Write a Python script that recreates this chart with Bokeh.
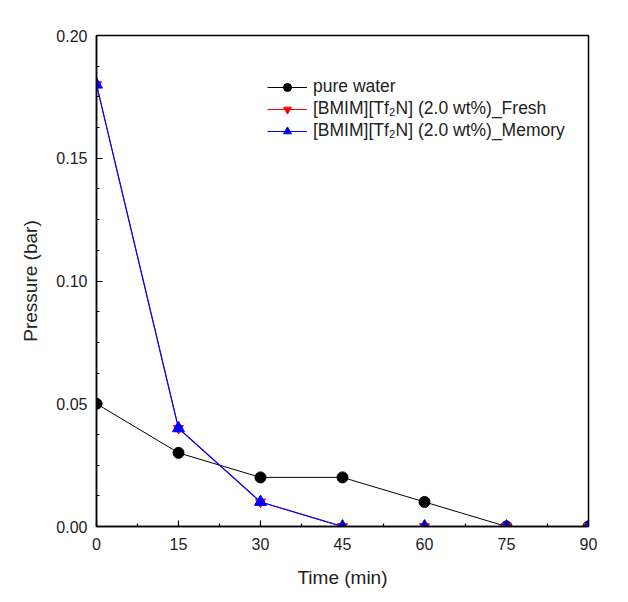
from bokeh.plotting import figure
from bokeh.models import Range1d, FixedTicker, Legend, LegendItem, NumeralTickFormatter
from bokeh.embed import file_html
from bokeh.resources import INLINE

time_min = [0, 15, 30, 45, 60, 75, 90]
pure_water = [0.05, 0.03, 0.02, 0.02, 0.01, 0.0, 0.0]
fresh = [0.18, 0.04, 0.01, 0.0, 0.0, 0.0, 0.0]
memory = [0.18, 0.04, 0.01, 0.0, 0.0, 0.0, 0.0]
x_ticks = [0, 15, 30, 45, 60, 75, 90]
y_ticks = [0.0, 0.05, 0.10, 0.15, 0.20]

FONT = "Liberation Sans"

p = figure(width=620, height=594, output_backend="svg", toolbar_location=None,
           x_range=Range1d(0, 90), y_range=Range1d(0, 0.20),
           min_border_left=96, min_border_right=32, min_border_top=35, min_border_bottom=68)
p.grid.visible = False
p.outline_line_color = "black"
p.outline_line_width = 1.5
p.background_fill_color = "white"

p.xaxis.ticker = FixedTicker(ticks=x_ticks, minor_ticks=[7.5 + 15 * i for i in range(6)])
p.yaxis.ticker = FixedTicker(ticks=y_ticks, minor_ticks=[0.0125 * i for i in range(17)])
p.yaxis.formatter = NumeralTickFormatter(format="0.00")

for ax in (p.xaxis[0], p.yaxis[0]):
    ax.major_tick_in = 6
    ax.major_tick_out = 0
    ax.minor_tick_in = 3
    ax.minor_tick_out = 0
    ax.axis_line_width = 1.5
    ax.major_tick_line_width = 1.2
    ax.minor_tick_line_width = 1.2
    ax.major_label_text_font = FONT
    ax.major_label_text_font_size = "16px"
    ax.major_label_text_color = "#222222"
    ax.axis_label_text_font = FONT
    ax.axis_label_text_font_size = "19px"
    ax.axis_label_text_font_style = "normal"
    ax.axis_label_text_color = "#222222"

p.xaxis.axis_label = "Time (min)"
p.yaxis.axis_label = "Pressure (bar)"
p.xaxis.major_label_standoff = 11
p.xaxis.axis_label_standoff = 14
p.yaxis.major_label_standoff = 9
p.yaxis.axis_label_standoff = 12

l1 = p.line(time_min, pure_water, line_color="black", line_width=1)
m1 = p.scatter(time_min, pure_water, marker="circle", size=11, fill_color="black", line_color="black")
l2 = p.line(time_min, fresh, line_color="red", line_width=1)
m2 = p.scatter(time_min, fresh, marker="inverted_triangle", size=10, fill_color="red", line_color="red")
l3 = p.line(time_min, memory, line_color="blue", line_width=1.2)
m3 = p.scatter(time_min, memory, marker="triangle", size=12, fill_color="blue", line_color="blue")

legend = Legend(items=[
    LegendItem(label="pure water", renderers=[l1, m1]),
    LegendItem(label="[BMIM][Tf\u2082N] (2.0 wt%)_Fresh", renderers=[l2, m2]),
    LegendItem(label="[BMIM][Tf\u2082N] (2.0 wt%)_Memory", renderers=[l3, m3]),
], location=(171, 385))
legend.border_line_color = None
legend.background_fill_alpha = 0
legend.padding = 0
legend.spacing = 1
legend.glyph_width = 40
legend.label_height = 20
legend.label_text_font = FONT
legend.label_text_font_size = "17.5px"
legend.label_text_color = "#222222"
legend.label_standoff = 6
p.add_layout(legend, "center")

open("out.html", "w").write(file_html(p, INLINE))
